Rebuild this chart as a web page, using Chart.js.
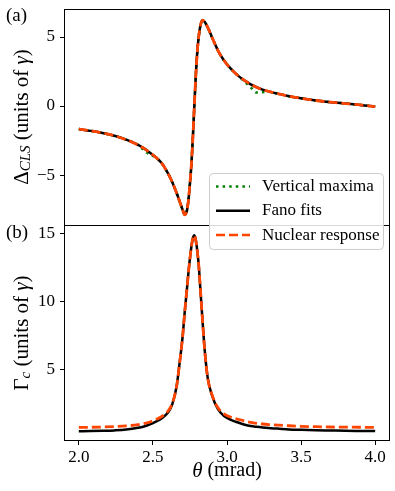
<!DOCTYPE html>
<html>
<head>
<meta charset="utf-8">
<script src="https://cdn.jsdelivr.net/npm/chart.js@4.4.0/dist/chart.umd.min.js"></script>
<style>
  html, body { margin: 0; padding: 0; background: #fff; }
</style>
</head>
<body>
<canvas id="fig" width="395" height="491"></canvas>
<script>
// theta (mrad)
const theta = [2.00, 2.08, 2.16, 2.24, 2.32, 2.40, 2.44, 2.48, 2.52, 2.56, 2.60, 2.63, 2.66, 2.68, 2.70, 2.715,
  2.73, 2.74, 2.75, 2.76, 2.77, 2.78, 2.79, 2.80, 2.81, 2.82, 2.835, 2.85, 2.87, 2.90, 2.94, 2.98,
  3.03, 3.08, 3.12, 3.16, 3.20, 3.24, 3.28, 3.34, 3.42, 3.50, 3.60, 3.70, 3.80, 3.90, 4.00];

// panel (a): collective Lamb shift
const shiftFano = [-1.67, -1.80, -1.95, -2.15, -2.44, -2.82, -3.07, -3.38, -3.72, -4.15, -4.85, -5.50, -6.30, -6.90, -7.50, -7.88,
  -7.55, -6.80, -5.60, -4.20, -2.20, 0.10, 2.30, 4.00, 5.10, 5.80, 6.22, 6.08, 5.70, 4.95, 4.00, 3.30,
  2.65, 2.15, 1.84, 1.57, 1.36, 1.19, 1.06, 0.90, 0.71, 0.56, 0.40, 0.28, 0.18, 0.08, -0.05];
const shiftNuclear = [-1.67, -1.80, -1.95, -2.15, -2.44, -2.82, -3.07, -3.38, -3.72, -4.15, -4.85, -5.50, -6.30, -6.90, -7.50, -7.88,
  -7.55, -6.80, -5.60, -4.20, -2.20, 0.10, 2.30, 4.00, 5.10, 5.80, 6.22, 6.08, 5.70, 4.95, 4.00, 3.30,
  2.65, 2.15, 1.84, 1.57, 1.36, 1.19, 1.06, 0.90, 0.71, 0.56, 0.40, 0.28, 0.18, 0.08, -0.05];
const shiftVertical = [-1.67, -1.80, -1.95, -2.15, -2.44, -2.82, -3.22, -3.52, -3.72, -4.15, -4.85, -5.50, -6.30, -6.90, -7.50, -7.88,
  -7.55, -6.80, -5.60, -4.20, -2.20, 0.10, 2.30, 4.00, 5.10, 5.80, 6.22, 6.08, 5.70, 4.95, 4.00, 3.30,
  2.65, 2.15, 1.76, 1.35, 0.98, 1.00, 1.04, 0.90, 0.71, 0.56, 0.40, 0.28, 0.18, 0.08, -0.05];

// panel (b): collective width
const widthFano = [0.50, 0.51, 0.53, 0.56, 0.62, 0.75, 0.85, 1.00, 1.20, 1.45, 1.85, 2.45, 3.80, 5.50, 7.40, 9.30,
  11.0, 12.2, 13.2, 14.1, 14.7, 14.9, 14.5, 13.7, 12.6, 11.0, 8.6, 6.4, 4.4, 3.1, 2.1, 1.62,
  1.32, 1.12, 0.98, 0.88, 0.82, 0.77, 0.73, 0.69, 0.63, 0.60, 0.57, 0.55, 0.53, 0.52, 0.51];
const widthNuclear = [0.78, 0.79, 0.81, 0.84, 0.89, 0.98, 1.06, 1.18, 1.36, 1.58, 1.95, 2.52, 3.80, 5.50, 7.40, 9.30,
  11.0, 12.2, 13.2, 14.1, 14.7, 14.9, 14.5, 13.7, 12.6, 11.0, 8.6, 6.4, 4.4, 3.15, 2.2, 1.78,
  1.52, 1.36, 1.25, 1.15, 1.08, 1.03, 0.99, 0.95, 0.90, 0.86, 0.83, 0.81, 0.80, 0.79, 0.78];

const thetaTicks = [2.0, 2.5, 3.0, 3.5, 4.0];
const shiftTicks = [-5, 0, 5];
const widthTicks = [5, 10, 15];

const SERIF = "'Liberation Serif', 'DejaVu Serif', serif";
const GREEN = '#008000';
const ORANGE = '#ff4500';

function pts(ys) {
    return theta.map((t, i) => ({x: t, y: ys[i]}));
}

function drawRich(ctx, parts, cx, cy, rotate) {
    ctx.save();
    ctx.translate(cx, cy);
    if (rotate) ctx.rotate(-Math.PI / 2);
    let total = 0;
    parts.forEach(p => { ctx.font = p.font; total += ctx.measureText(p.t).width; });
    let x = -total / 2;
    ctx.fillStyle = '#000';
    ctx.textBaseline = 'middle';
    ctx.textAlign = 'left';
    parts.forEach(p => {
        ctx.font = p.font;
        ctx.fillText(p.t, x, p.dy || 0);
        x += ctx.measureText(p.t).width;
    });
    ctx.restore();
}

// no automatic label padding: keeps the plot frame where the reference has it
function fixWidth(s) {
    s.width = 64;
    s.paddingTop = 0;
    s.paddingBottom = 0;
}

const decorations = {
    id: 'decorations',
    afterDraw(chart) {
        const {ctx, chartArea: a, scales} = chart;
        const top = scales.yShift, bot = scales.yWidth;
        const mid = Math.round(top.bottom) + 0.5;
        ctx.save();
        ctx.strokeStyle = '#000';
        ctx.lineWidth = 1;
        ctx.strokeRect(Math.round(a.left) + 0.5, Math.round(a.top) + 0.5,
            Math.round(a.right - a.left) - 1, Math.round(a.bottom - a.top) - 1);
        ctx.beginPath();
        ctx.moveTo(a.left, mid);
        ctx.lineTo(a.right, mid);
        ctx.stroke();

        // legend
        const lx = 209, ly = 173, lw = 174, lh = 76;
        ctx.fillStyle = 'rgba(255,255,255,0.85)';
        ctx.strokeStyle = '#cccccc';
        ctx.beginPath();
        ctx.roundRect(lx + 0.5, ly + 0.5, lw, lh, 4);
        ctx.fill();
        ctx.stroke();
        const entries = [
            {label: 'Vertical maxima', color: GREEN, dash: [2.5, 4.1]},
            {label: 'Fano fits', color: '#000', dash: []},
            {label: 'Nuclear response', color: ORANGE, dash: [9, 4]}
        ];
        entries.forEach((e, i) => {
            const y = 186.5 + i * 24.3;
            ctx.strokeStyle = e.color;
            ctx.lineWidth = 2.5;
            ctx.setLineDash(e.dash);
            ctx.beginPath();
            ctx.moveTo(216, y);
            ctx.lineTo(250, y);
            ctx.stroke();
            ctx.setLineDash([]);
            ctx.fillStyle = '#000';
            ctx.font = '17px ' + SERIF;
            ctx.textBaseline = 'middle';
            ctx.fillText(e.label, 262, y);
        });

        // panel labels
        ctx.font = '19px ' + SERIF;
        ctx.fillStyle = '#000';
        ctx.textBaseline = 'middle';
        ctx.fillText('(a)', 6, 16);
        ctx.fillText('(b)', 6, 233);
        ctx.restore();

        const f = '21px ' + SERIF;
        const fi = 'italic 21px ' + SERIF;
        drawRich(ctx, [
            {t: 'Δ', font: f},
            {t: 'CLS', font: 'italic 15px ' + SERIF, dy: 4},
            {t: ' (units of ', font: f},
            {t: 'γ', font: fi},
            {t: ')', font: f}
        ], 22, (top.top + top.bottom) / 2, true);
        drawRich(ctx, [
            {t: 'Γ', font: f},
            {t: 'c', font: 'italic 15px ' + SERIF, dy: 4},
            {t: ' (units of ', font: f},
            {t: 'γ', font: fi},
            {t: ')', font: f}
        ], 22, (bot.top + bot.bottom) / 2, true);
        drawRich(ctx, [
            {t: 'θ', font: fi},
            {t: ' (mrad)', font: '20px ' + SERIF}
        ], (a.left + a.right) / 2, 471, false);
    }
};

const tickFont = {family: SERIF, size: 17};

const ctx = document.getElementById('fig').getContext('2d');
const figure = new Chart(ctx, {
    type: 'line',
    data: {
        datasets: [
            {label: 'Nuclear response', data: pts(shiftNuclear), yAxisID: 'yShift', borderColor: ORANGE,
                borderWidth: 2.8, borderDash: [9, 4], order: 0},
            {label: 'Fano fits', data: pts(shiftFano), yAxisID: 'yShift', borderColor: '#000',
                borderWidth: 2.5, order: 1},
            {label: 'Vertical maxima', data: pts(shiftVertical), yAxisID: 'yShift', borderColor: GREEN,
                borderWidth: 2.5, borderDash: [2.5, 4.1], order: 2},
            {label: 'Nuclear response', data: pts(widthNuclear), yAxisID: 'yWidth', borderColor: ORANGE,
                borderWidth: 2.8, borderDash: [9, 4], order: 0},
            {label: 'Fano fits', data: pts(widthFano), yAxisID: 'yWidth', borderColor: '#000',
                borderWidth: 2.5, order: 1}
        ]
    },
    options: {
        responsive: false,
        animation: false,
        parsing: false,
        elements: {
            point: {radius: 0},
            line: {cubicInterpolationMode: 'monotone', fill: false}
        },
        layout: {padding: {top: 9, right: 5, left: 0, bottom: 0}},
        plugins: {
            legend: {display: false},
            tooltip: {enabled: false}
        },
        scales: {
            x: {
                type: 'linear',
                min: 1.9,
                max: 4.1,
                afterBuildTicks: s => { s.ticks = thetaTicks.map(v => ({value: v})); },
                afterFit: s => { s.height = 50; s.paddingLeft = 0; s.paddingRight = 0; },
                ticks: {font: tickFont, color: '#000', padding: 2, callback: v => v.toFixed(1), maxRotation: 0},
                grid: {drawOnChartArea: false, tickLength: 4, color: '#000'},
                border: {display: false}
            },
            // bottom panel listed first so the stack puts it below panel (a)
            yWidth: {
                type: 'linear',
                position: 'left',
                stack: 'panels',
                stackWeight: 1,
                min: -0.22,
                max: 15.66,
                afterBuildTicks: s => { s.ticks = widthTicks.map(v => ({value: v})); },
                afterFit: fixWidth,
                ticks: {font: tickFont, color: '#000', padding: 5, callback: v => String(v)},
                grid: {drawOnChartArea: false, tickLength: 4, color: '#000'},
                border: {display: false}
            },
            yShift: {
                type: 'linear',
                position: 'left',
                stack: 'panels',
                stackWeight: 1,
                min: -8.62,
                max: 7.03,
                afterBuildTicks: s => { s.ticks = shiftTicks.map(v => ({value: v})); },
                afterFit: fixWidth,
                ticks: {font: tickFont, color: '#000', padding: 5,
                    callback: v => (v < 0 ? '\u2212' + Math.abs(v) : String(v))},
                grid: {drawOnChartArea: false, tickLength: 4, color: '#000'},
                border: {display: false}
            }
        }
    },
    plugins: [decorations]
});
</script>
</body>
</html>
